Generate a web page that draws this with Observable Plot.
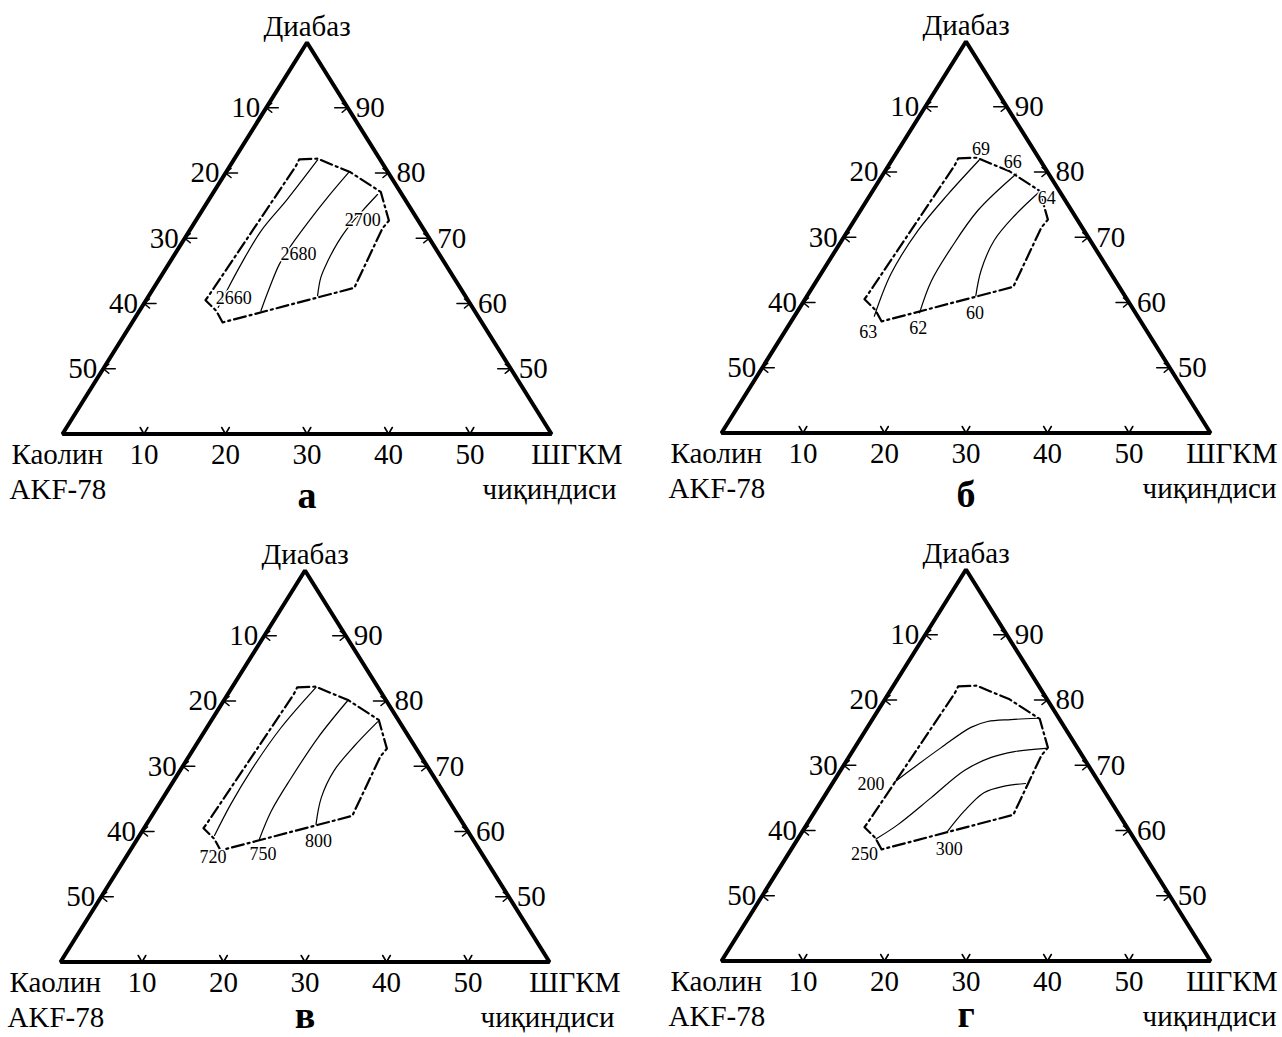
<!DOCTYPE html>
<html><head><meta charset="utf-8">
<script src="https://cdn.jsdelivr.net/npm/d3@7"></script>
<script src="https://cdn.jsdelivr.net/npm/@observablehq/plot@0.6"></script>
<style>
html,body{margin:0;padding:0;background:#fff;}
#fig{position:relative;width:1282px;height:1037px;overflow:hidden;background:#fff;}
.panel{position:absolute;width:630px;height:520px;}
.panel svg{overflow:visible;max-width:none !important;display:block;}
</style></head><body><div id="fig"></div>
<script>
// ---- data (compositions as [Каолин %, ШГКМ %]; Диабаз = 100 - Каолин - ШГКМ) ----
const vertexLabels = ["Диабаз", "Каолин", "AKF-78", "ШГКМ", "чиқиндиси"];
const vertices = [[0, 0], [60, 0], [0, 60]];          // Диабаз 100, Каолин corner, ШГКМ corner
const leftTicks = [10, 20, 30, 40, 50];               // Каолин
const rightTicks = [90, 80, 70, 60, 50];              // Диабаз
const bottomTicks = [10, 20, 30, 40, 50];             // ШГКМ чиқиндиси
const panelLetters = ["а", "б", "в", "г"];

const boundary = [[9.9, 8.0], [7.6, 10.2], [4.6, 15.3], [2.4, 20.5], [3.6, 23.7], [5.0, 23.5],
  [13.0, 24.6], [31.8, 11.1], [31.7, 9.4], [32.2, 7.3], [30.1, 7.4], [10.8, 8.1]];

// panel а : density
const contoursA = [
  [[31.2, 9.4], [29.1, 9.2], [25.1, 8.9], [20.1, 8.8], [14.4, 9.6], [7.7, 10.3]],
  [[26.2, 14.9], [23.4, 14.2], [20.4, 13.6], [17.5, 13.6], [13.7, 13.9], [9.3, 14.4], [4.7, 15.1]],
  [[18.1, 20.7], [16.3, 19.7], [14.2, 19.3], [11.6, 19.1], [9.2, 19.2], [6.1, 19.7], [3.0, 20.3]]
];
const labelsA = [["2660", 28.6, 10.6], ["2680", 17.3, 15.2], ["2700", 6.8, 20.5]];

// panel б
const contoursB = [
  [[32.3, 9.8], [27.0, 8.6], [20.4, 8.6], [13.9, 9.5], [7.5, 10.7]],
  [[26.5, 15.1], [22.6, 14.1], [17.6, 14.0], [11.5, 14.4], [4.0, 16.3]],
  [[18.3, 20.7], [15.7, 19.4], [11.8, 18.7], [7.4, 19.3], [2.6, 20.5]]
];
const labelsB = [["63", 34.3, 10.3], ["69", 6.4, 10.1], ["62", 27.8, 16.1], ["66", 3.5, 15.0],
  ["60", 19.7, 21.9], ["64", 2.1, 21.9]];

// panel в
const contoursC = [
  [[31.4, 9.2], [27.0, 8.8], [22.0, 8.7], [15.0, 9.1], [7.6, 10.3]],
  [[26.2, 15.0], [22.6, 14.3], [17.6, 14.2], [11.2, 14.4], [4.8, 15.2]],
  [[18.1, 20.8], [15.4, 19.4], [11.8, 18.9], [7.4, 19.5], [2.7, 20.5]]
];
const labelsC = [["720", 33.3, 10.7], ["750", 26.9, 16.6], ["800", 19.1, 22.4]];

// panel г
const contoursD = [
  [[25.1, 7.5], [21.5, 8.8], [16.7, 10.6], [11.5, 12.7], [9.0, 14.3], [6.0, 17.0], [2.6, 20.2]],
  [[31.7, 9.6], [27.9, 11.2], [21.8, 13.2], [15.6, 15.2], [11.3, 17.5], [8.0, 19.9], [3.9, 23.5]],
  [[22.3, 17.8], [18.7, 18.3], [14.9, 19.3], [11.9, 21.3], [9.1, 23.7]]
];
const labelsD = [["200", 28.1, 4.8], ["250", 34.3, 9.4], ["300", 23.5, 19.4]];

// ---- drawing ----
const FONT = '"Liberation Serif","Times New Roman",serif';
const X = d => d[1] - d[0];   // ШГКМ − Каолин
const Y = d => d[0] + d[1];   // Каолин + ШГКМ

const arrowTick = {draw(c, l) { c.moveTo(0, 0); c.lineTo(0, -l); c.moveTo(-4.5, -l + 5.5); c.lineTo(0, -l); c.lineTo(4.5, -l + 5.5); }};
const vTick = {draw(c, l) { c.moveTo(-3.8, -l + 6.5); c.lineTo(0, -l); c.lineTo(3.8, -l + 6.5); }};

function panel(letter, contours, labels, o) {
  const txt = {fontFamily: FONT, fontSize: 29, lineAnchor: "middle", fill: "black"};
  const clabels = labels.map(([t, k, s]) => ({t, k, s}));
  return Plot.plot({
    width: 630, height: 520, margin: 0,
    style: {background: "transparent", overflow: "visible", maxWidth: "none"},
    x: {domain: [-60, 60], range: [62, 551], axis: null},
    y: {domain: [0, 60], range: [42, 433.5], axis: null},
    marks: [
      Plot.line(boundary, {x: X, y: Y, curve: "linear-closed", stroke: "black", strokeWidth: 2.2,
        strokeDasharray: "12,4,2,4"}),
      ...contours.map(c => Plot.line(c, {x: X, y: Y, curve: "catmull-rom", stroke: "black", strokeWidth: 1.2})),
      Plot.text(clabels, {x: d => d.s - d.k, y: d => d.k + d.s, text: "t", fontFamily: FONT, fontSize: 18,
        lineAnchor: "middle", fill: "black", stroke: "white", strokeWidth: 3}),
      Plot.line(vertices, {x: X, y: Y, curve: "linear-closed", stroke: "black", strokeWidth: 4,
        strokeLinejoin: "miter"}),
      Plot.vector(leftTicks, {x: t => -t, y: t => t, rotate: -90, length: 12, anchor: "end",
        shape: arrowTick, stroke: "black", strokeWidth: 1.6}),
      Plot.vector(rightTicks, {x: t => 100 - t, y: t => 100 - t, rotate: 90, length: 13, anchor: "end",
        shape: arrowTick, stroke: "black", strokeWidth: 1.6}),
      Plot.vector(bottomTicks, {x: t => t - (60 - t), y: () => 60, rotate: 180, length: 6.5, anchor: "end",
        shape: vTick, stroke: "black", strokeWidth: 1.6}),
      Plot.text(leftTicks, {x: t => -t, y: t => t, text: t => String(t), textAnchor: "end", dx: -6, ...txt}),
      Plot.text(rightTicks, {x: t => 100 - t, y: t => 100 - t, text: t => String(t), textAnchor: "start", dx: 8, ...txt}),
      Plot.text(bottomTicks, {x: t => t - (60 - t), y: () => 60, text: t => String(t), dy: 20.5, ...txt}),
      Plot.text([vertices[0]], {x: X, y: Y, text: () => vertexLabels[0], dy: -15.5, ...txt}),
      Plot.text([vertices[1]], {x: X, y: Y, text: () => vertexLabels[1], textAnchor: "start", dx: -51, dy: 20.5, ...txt}),
      Plot.text([vertices[1]], {x: X, y: Y, text: () => vertexLabels[2], textAnchor: "start", dx: -53, dy: 55.5, ...txt}),
      Plot.text([vertices[2]], {x: X, y: Y, text: () => vertexLabels[3], textAnchor: "end", dx: o.shgkm, dy: 20.5, ...txt}),
      Plot.text([vertices[2]], {x: X, y: Y, text: () => vertexLabels[4], textAnchor: "end", dx: o.chiq, dy: 55.5, ...txt}),
      Plot.text([[30, 30]], {x: X, y: Y, text: () => letter, fontFamily: FONT, fontSize: 38, fontWeight: "bold",
        lineAnchor: "middle", dy: o.letterDy})
    ]
  });
}

const fig = document.getElementById("fig");
const layout = [
  {left: 0, top: 0, contours: contoursA, labels: labelsA, o: {letterDy: 62, shgkm: 71, chiq: 65}},
  {left: 659, top: -1, contours: contoursB, labels: labelsB, o: {letterDy: 62, shgkm: 67, chiq: 66}},
  {left: -2, top: 528, contours: contoursC, labels: labelsC, o: {letterDy: 54, shgkm: 71, chiq: 65}},
  {left: 659, top: 527, contours: contoursD, labels: labelsD, o: {letterDy: 54, shgkm: 67, chiq: 66}}
];
layout.forEach((p, i) => {
  const div = document.createElement("div");
  div.className = "panel";
  div.style.left = p.left + "px";
  div.style.top = p.top + "px";
  div.append(panel(panelLetters[i], p.contours, p.labels, p.o));
  fig.append(div);
});
</script></body></html>
